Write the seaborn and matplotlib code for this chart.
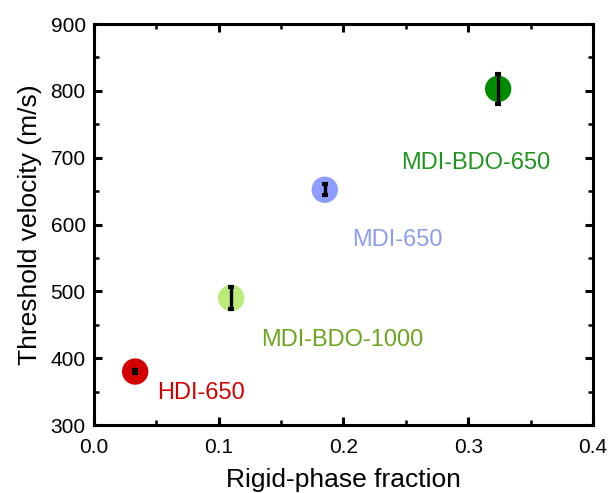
import matplotlib
matplotlib.use('Agg')
import matplotlib.pyplot as plt
import seaborn as sns
import pandas as pd
from matplotlib.ticker import MultipleLocator

# Data
samples = ['HDI-650', 'MDI-BDO-1000', 'MDI-650', 'MDI-BDO-650']
rigid_fraction = [0.033, 0.110, 0.185, 0.324]
threshold_velocity = [380, 490, 652, 803]
velocity_err = [2, 16, 8, 22]
marker_colors = ['#D40000', '#BDEB78', '#8C9CFF', '#008C00']
text_colors = ['#D00000', '#6CA51E', '#8C9CF5', '#1E961E']
label_x = [0.051, 0.134, 0.207, 0.246]
label_y = [348, 427, 577, 692]

df = pd.DataFrame({'sample': samples, 'x': rigid_fraction, 'y': threshold_velocity})

sns.set_style('ticks')
plt.rcParams['font.family'] = ['Liberation Sans', 'DejaVu Sans']
plt.rcParams['text.color'] = 'black'
plt.rcParams['axes.labelcolor'] = 'black'

fig = plt.figure(figsize=(6.08, 4.93), dpi=100)
ax = fig.add_axes([0.1546, 0.1379, 0.8207, 0.8134])

sns.scatterplot(data=df, x='x', y='y', hue='sample', palette=marker_colors,
                s=360, edgecolor='none', legend=False, ax=ax, zorder=2)
ax.errorbar(rigid_fraction, threshold_velocity, yerr=velocity_err, fmt='none',
            ecolor='black', elinewidth=2.4, capsize=2.5, capthick=3, zorder=3)

for name, lx, ly, c in zip(samples, label_x, label_y, text_colors):
    ax.text(lx, ly, name, color=c, fontsize=17, ha='left', va='center')

ax.set_xlim(0, 0.4)
ax.set_ylim(300, 900)
ax.xaxis.set_major_locator(MultipleLocator(0.1))
ax.xaxis.set_minor_locator(MultipleLocator(0.05))
ax.yaxis.set_major_locator(MultipleLocator(100))
ax.yaxis.set_minor_locator(MultipleLocator(50))
ax.set_xticklabels([f'{v:.1f}' for v in ax.get_xticks()])

ax.set_xlabel('Rigid-phase fraction', fontsize=19, labelpad=8)
ax.set_ylabel('Threshold velocity (m/s)', fontsize=19, labelpad=6)

for s in ax.spines.values():
    s.set_visible(True)
    s.set_linewidth(2.2)
    s.set_color('black')
ax.tick_params(which='both', direction='in', top=True, right=True, colors='black',
               labelsize=15)
ax.tick_params(which='major', length=6, width=2.2, pad=6)
ax.tick_params(axis='x', which='major', pad=9)
ax.tick_params(which='minor', length=3.5, width=1.8)

fig.savefig('out.png', dpi=100)
